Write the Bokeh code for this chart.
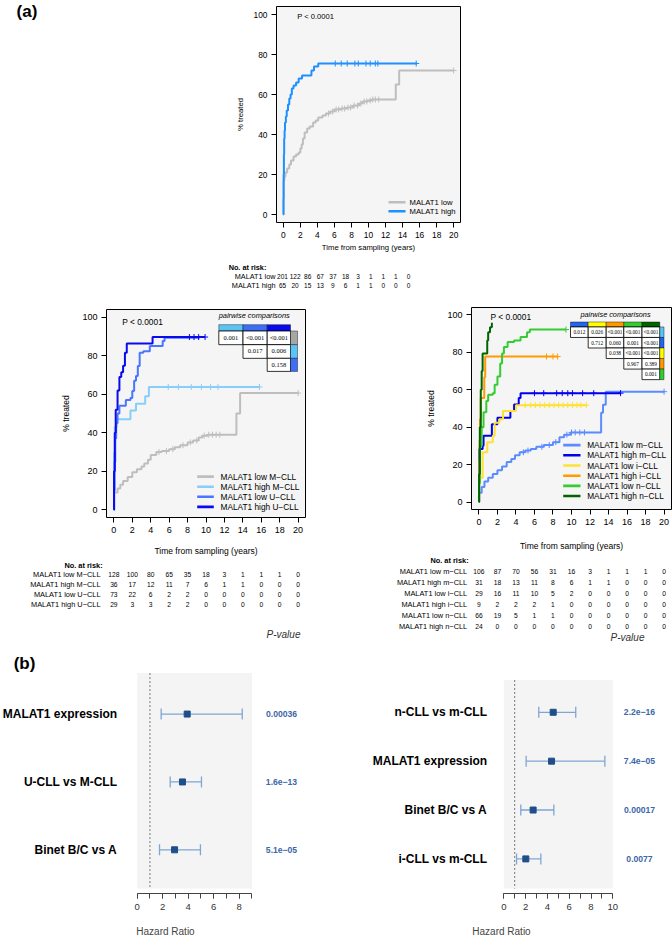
import math
from bokeh.plotting import figure
from bokeh.models import Range1d, FixedTicker
from bokeh.layouts import row, column
from bokeh.embed import file_html
from bokeh.resources import INLINE
from bokeh.core.properties import value

FONT = "Liberation Sans"
SERIF = "Liberation Serif"

# ------------------------------------------------------------------ data
risk_times = [0, 2, 4, 6, 8, 10, 12, 14, 16, 18, 20]

# (a) top panel
top_labels = ["MALAT1 low", "MALAT1 high"]
top_colors = ["#BEBEBE", "#1E90FF"]
top_low_t = [0, 0.03, 0.12, 0.25, 0.45, 0.7, 0.9, 1.2, 1.5, 1.8, 2.0, 2.15, 2.3, 2.5, 2.8, 3.1,
             3.5, 3.8, 4.1, 4.6, 5.0, 5.5, 6.0, 6.8, 7.5, 8.2, 8.9, 9.3, 9.9, 10.4, 13.2, 13.6, 20.0]
top_low_v = [0, 17, 19, 21, 23, 25, 27, 29, 30, 31, 33, 35, 38, 41, 43, 44,
             46, 47, 48.5, 49.5, 50.5, 51.5, 52.5, 53, 53.5, 54.5, 55.5, 56.5, 57, 57.5, 65, 72, 72]
top_low_c = [5.3, 5.8, 6.2, 6.5, 6.9, 7.2, 7.6, 7.9, 8.3, 8.7, 9.1, 9.5, 9.8, 10.2, 10.5, 10.8, 11.2, 20.0]
top_high_t = [0, 0.02, 0.04, 0.07, 0.1, 0.15, 0.2, 0.3, 0.4, 0.55, 0.7, 0.85, 1.0, 1.2, 1.5, 1.8,
              2.2, 3.3, 3.6, 4.1, 15.7]
top_high_v = [0, 8, 20, 30, 38, 42, 46, 49, 52, 55, 58, 60, 63, 64.5, 66, 68,
              69.5, 72, 74, 75.5, 75.5]
top_high_c = [6.1, 6.8, 7.5, 8.4, 8.8, 9.7, 10.2, 10.8, 11.1, 15.6]
top_risk = [[201, 122, 86, 67, 37, 18, 3, 1, 1, 1, 0],
            [65, 20, 15, 13, 9, 6, 1, 1, 0, 0, 0]]

# (a) middle-left panel
ml_labels = ["MALAT1 low M\u2212CLL", "MALAT1 high M\u2212CLL", "MALAT1 low U\u2212CLL", "MALAT1 high U\u2212CLL"]
ml_colors = ["#BEBEBE", "#87CEFA", "#4876FF", "#0A0AEE"]
ml_lowM_t = [0, 0.02, 0.4, 0.7, 1.0, 1.5, 2.0, 2.5, 3.0, 3.3, 3.7, 4.0, 4.6, 5.2, 6.0, 6.6, 7.2,
             8.0, 8.6, 9.2, 9.6, 10.2, 13.3, 13.7, 20.0]
ml_lowM_v = [0, 9, 11, 13, 15, 17, 19.5, 21, 22.5, 24, 26, 28.5, 30, 30.5, 31.5, 32.5, 33.5,
             35, 36, 37.5, 38.5, 39, 50, 60.6, 60.6]
ml_lowM_c = [4.9, 5.7, 6.4, 7.5, 8.3, 9.0, 9.8, 10.3, 10.7, 11.1, 11.5, 20.0]
ml_highM_t = [0, 0.03, 0.1, 0.3, 1.8, 2.4, 3.4, 3.8, 15.8]
ml_highM_v = [0, 30, 43, 47, 51.5, 55, 59, 63.8, 63.8]
ml_highM_c = [5.9, 7.0, 8.4, 9.5, 10.5, 11.3, 15.8]
ml_lowU_t = [0, 0.02, 0.08, 0.15, 0.25, 0.4, 0.6, 1.3, 1.8, 2.0, 2.2, 2.4, 2.6, 2.8, 3.2, 3.9, 5.3, 5.5, 9.3]
ml_lowU_v = [0, 10, 25, 37, 45, 50, 54, 57, 58, 61.7, 67, 69.5, 74.6, 81.5, 82.3, 85, 87.6, 89.3, 89.3]
ml_lowU_c = []
ml_highU_t = [0, 0.02, 0.1, 0.2, 0.4, 0.6, 0.8, 1.0, 1.2, 1.4, 4.2, 9.9]
ml_highU_v = [0, 20, 40, 52, 62, 69, 71.4, 74.8, 81.6, 86.3, 89.7, 89.7]
ml_highU_c = [8.2, 8.7, 9.2, 9.9]
ml_risk = [[128, 100, 80, 65, 35, 18, 3, 1, 1, 1, 0],
           [36, 17, 12, 11, 7, 6, 1, 1, 0, 0, 0],
           [73, 22, 6, 2, 2, 0, 0, 0, 0, 0, 0],
           [29, 3, 3, 2, 2, 0, 0, 0, 0, 0, 0]]
ml_pairwise = [["0.001", "<0.001", "<0.001"], ["0.017", "0.006"], ["0.158"]]

# (a) middle-right panel
mr_labels = ["MALAT1 low m\u2212CLL", "MALAT1 high m\u2212CLL", "MALAT1 low i\u2212CLL",
             "MALAT1 high i\u2212CLL", "MALAT1 low n\u2212CLL", "MALAT1 high n\u2212CLL"]
mr_colors = ["#5B8CFF", "#0000EE", "#FFE135", "#FF9A00", "#33CC33", "#006400"]
mr_lowm_t = [0, 0.02, 0.3, 0.6, 1.0, 1.5, 2.0, 2.5, 3.0, 3.5, 3.9, 4.4, 5.0, 5.6, 6.2, 7.0, 8.0,
             8.7, 9.2, 9.9, 13.2, 13.4, 13.7, 20.0]
mr_lowm_v = [0, 5, 8, 11, 13, 15, 17, 19, 21.4, 23, 25, 26.6, 27.5, 28.4, 29.5, 30.5, 32,
             34.6, 36, 37.2, 47.7, 52, 59, 59]
mr_lowm_c = [4.8, 5.3, 6.8, 7.6, 8.3, 9.5, 10.0, 10.4, 10.9, 11.4, 20.0]
mr_highm_t = [0, 0.02, 0.05, 0.4, 0.5, 1.4, 2.0, 3.4, 3.8, 4.3, 4.5, 15.3]
mr_highm_v = [0, 12, 28.4, 30.1, 35.4, 41.6, 45.1, 48.6, 52.1, 55.6, 58.2, 58.2]
mr_highm_c = [6.0, 7.0, 8.4, 9.0, 9.6, 10.1, 11.2, 12.4, 15.3]
mr_lowi_t = [0, 0.02, 0.4, 0.9, 1.5, 1.7, 2.2, 2.6, 4.0, 11.6]
mr_lowi_v = [0, 13, 26.6, 31.9, 35.4, 42.4, 44.2, 48.6, 51.8, 51.8]
mr_lowi_c = [5.0, 5.6, 6.1, 6.6, 7.1, 7.6, 8.1, 8.6, 9.1, 9.6, 10.1, 10.6, 11.0, 11.6]
mr_highi_t = [0, 0.02, 0.05, 0.08, 0.12, 0.2, 0.58, 0.68, 8.5]
mr_highi_v = [0, 11.1, 22.2, 33.3, 44.4, 55.6, 66.7, 77.8, 77.8]
mr_highi_c = [7.3, 8.0, 8.5]
mr_lown_t = [0, 0.02, 0.1, 0.3, 0.5, 0.8, 1.0, 1.5, 1.7, 2.0, 2.3, 2.5, 2.7, 3.1, 3.8, 4.5, 5.2, 5.5, 9.4]
mr_lown_v = [0, 10, 30, 40, 48, 54, 57.4, 58.2, 62.7, 67.1, 74.1, 79.4, 82.9, 85.6, 86.4, 88.2, 90.8, 92.2, 92.2]
mr_lown_c = [9.4]
mr_highn_t = [0, 0.02, 0.1, 0.2, 0.3, 0.4, 0.9, 1.0, 1.2, 1.4]
mr_highn_v = [0, 15, 40, 60, 70, 79.4, 86.4, 90.8, 93.4, 95.9]
mr_highn_c = []
mr_risk = [[106, 87, 70, 56, 31, 16, 3, 1, 1, 1, 0],
           [31, 18, 13, 11, 8, 6, 1, 1, 0, 0, 0],
           [29, 16, 11, 10, 5, 2, 0, 0, 0, 0, 0],
           [9, 2, 2, 2, 1, 0, 0, 0, 0, 0, 0],
           [66, 19, 5, 1, 1, 0, 0, 0, 0, 0, 0],
           [24, 0, 0, 0, 0, 0, 0, 0, 0, 0, 0]]
mr_pairwise = [["0.012", "0.026", "<0.001", "<0.001", "<0.001"],
               ["0.712", "0.060", "0.001", "<0.001"],
               ["0.038", "<0.001", "<0.001"],
               ["0.967", "0.389"],
               ["0.001"]]

# (b) forest plots
fl_labels = ["MALAT1 expression", "U-CLL vs M-CLL", "Binet B/C vs A"]
fl_hr = [3.92, 3.55, 2.93]
fl_lo = [1.88, 2.59, 1.75]
fl_hi = [8.24, 5.04, 4.96]
fl_p = ["0.00036", "1.6e\u221213", "5.1e\u221205"]

fr_labels = ["n-CLL vs m-CLL", "MALAT1 expression", "Binet B/C vs A", "i-CLL vs m-CLL"]
fr_hr = [4.53, 4.38, 2.69, 2.02]
fr_lo = [3.21, 2.05, 1.56, 1.17]
fr_hi = [6.60, 9.27, 4.59, 3.40]
fr_p = ["2.2e\u221216", "7.4e\u221205", "0.00017", "0.0077"]


# ------------------------------------------------------------------ helpers
def no_align(p):
    try:
        p.frame_align = False
    except Exception:
        pass


def at(c, ts, vs):
    val = vs[0]
    for t, v in zip(ts, vs):
        if t <= c:
            val = v
    return val


def blank_fig(w, h, xr, yr):
    p = figure(width=w, height=h, x_range=xr, y_range=yr, x_axis_location=None,
               y_axis_location=None, min_border=0, min_border_left=0, min_border_right=0,
               min_border_top=0, min_border_bottom=0,
               output_backend="svg", toolbar_location=None)
    p.outline_line_color = None
    p.grid.visible = False
    no_align(p)
    return p


def km_figure(fig_x, fig_y, width, height, bl, bt, fw, fh, tick_fs, axis_fs, x_lab_so, y_lab_so):
    p = figure(width=width, height=height, x_range=Range1d(-0.8, 20.8), y_range=Range1d(-4, 104),
               min_border_left=bl, min_border_right=width - bl - fw, min_border_top=bt,
               min_border_bottom=height - bt - fh, output_backend="svg", toolbar_location=None)
    no_align(p)
    p.background_fill_color = "#F5F5F5"
    p.border_fill_color = "white"
    p.outline_line_color = "black"
    p.outline_line_width = 1
    p.grid.visible = False
    p.xaxis.ticker = FixedTicker(ticks=risk_times)
    p.yaxis.ticker = FixedTicker(ticks=[0, 20, 40, 60, 80, 100])
    for ax in (p.xaxis[0], p.yaxis[0]):
        ax.axis_line_color = None
        ax.major_tick_out = 5
        ax.major_tick_in = 0
        ax.minor_tick_out = 0
        ax.minor_tick_in = 0
        ax.major_tick_line_color = "black"
        ax.major_label_text_font = FONT
        ax.major_label_text_font_size = tick_fs
        ax.major_label_text_color = "black"
        ax.major_label_standoff = 4
        ax.axis_label_text_font = FONT
        ax.axis_label_text_font_size = axis_fs
        ax.axis_label_text_font_style = "normal"
        ax.axis_label_text_color = "black"
    p.xaxis.axis_label = "Time from sampling (years)"
    p.yaxis.axis_label = "% treated"
    p.xaxis.axis_label_standoff = x_lab_so
    p.yaxis.axis_label_standoff = y_lab_so
    fl = fig_x + bl
    ft = fig_y + bt
    sx = fw / 21.6
    sy = fh / 108.0
    fx = lambda px: -0.8 + (px - fl) / sx
    fy = lambda py: 104 - (py - ft) / sy
    return p, fx, fy


def ptext(p, x, y, s, fs, align="left", style="normal", color="black", font=FONT):
    p.text(x=[x], y=[y], text=[s], text_align=align, text_baseline="middle",
           text_font=value(font), text_font_size=fs, text_font_style=style, text_color=color)


def draw_curves(p, fx, fy, curves, colors, labels, lw, key_px, text_px, rows_py, leg_fs):
    for (t, v, cens), col in zip(curves, colors):
        p.step(t, v, mode="after", line_color=col, line_width=lw)
        if cens:
            p.scatter(cens, [at(c, t, v) for c in cens], marker="cross", size=6,
                      line_color=col, line_width=1)
    # key (legend) in the lower right corner of the panel
    n = len(labels)
    ys = [fy(py) for py in rows_py]
    p.segment(x0=[fx(key_px[0])] * n, x1=[fx(key_px[1])] * n, y0=ys, y1=ys,
              line_color=colors, line_width=2.6)
    p.text(x=[fx(text_px)] * n, y=ys, text=labels, text_align="left", text_baseline="middle",
           text_font=value(FONT), text_font_size=leg_fs, text_color="black")


def pair_table(p, fx, fy, cols, side, head, rows, head_colors, side_colors, texts, fs, title_xy, title_fs):
    n = len(texts)
    p.quad(left=[fx(cols[i]) for i in range(n)], right=[fx(cols[i + 1]) for i in range(n)],
           top=[fy(head[0])] * n, bottom=[fy(head[1])] * n, fill_color=head_colors,
           line_color="black", line_width=0.4)
    L, R, T, B, TX, TY, TT = [], [], [], [], [], [], []
    for r in range(n):
        for k, s in enumerate(texts[r]):
            c = r + k
            L.append(fx(cols[c])); R.append(fx(cols[c + 1]))
            T.append(fy(rows[r])); B.append(fy(rows[r + 1]))
            TX.append(fx((cols[c] + cols[c + 1]) / 2)); TY.append(fy((rows[r] + rows[r + 1]) / 2))
            TT.append(s)
    p.quad(left=L, right=R, top=T, bottom=B, fill_color="white", line_color="black", line_width=0.8)
    p.quad(left=[fx(side[0])] * n, right=[fx(side[1])] * n, top=[fy(rows[r]) for r in range(n)],
           bottom=[fy(rows[r + 1]) for r in range(n)], fill_color=side_colors,
           line_color="black", line_width=0.4)
    p.text(x=TX, y=TY, text=TT, text_align="center", text_baseline="middle",
           text_font=value(SERIF), text_font_size=fs, text_color="black")
    ptext(p, fx(title_xy[0]), fy(title_xy[1]), "pairwise comparisons", title_fs,
          align="center", style="italic")


def risk_table(fig_x, fig_y, w, h, xmap, row0_py, dy, labels, risk, label_px, head_px, fs, nfs):
    xr = Range1d(xmap(fig_x), xmap(fig_x + w))
    yr = Range1d((fig_y + h - row0_py) / dy, (fig_y - row0_py) / dy)
    p = blank_fig(w, h, xr, yr)
    ptext(p, xmap(head_px), -1, "No. at risk:", fs, align="center", style="bold")
    for i, (lab, vals) in enumerate(zip(labels, risk)):
        ptext(p, xmap(label_px), i, lab, fs, align="right")
        p.text(x=risk_times, y=[i] * len(risk_times), text=[str(v) for v in vals],
               text_align="center", text_baseline="middle", text_font=value(FONT),
               text_font_size=nfs, text_color="black")
    return p


def forest_fig(fig_x, fig_y, w, h, bb, zero_px, unit_px, row0_py, row_dy, band_py, xmax,
               labels, hr, lo, hi, pv, label_px, pval_px, header_xy):
    frame_bottom = fig_y + h - bb
    gx = lambda px: (px - zero_px) / unit_px
    gy = lambda py: (py - row0_py) / row_dy
    xr = Range1d(gx(fig_x), gx(fig_x + w))
    yr = Range1d(gy(frame_bottom), gy(fig_y))
    p = figure(width=w, height=h, x_range=xr, y_range=yr, y_axis_location=None,
               min_border_left=0, min_border_right=0, min_border_top=0, min_border_bottom=bb,
               output_backend="svg", toolbar_location=None)
    no_align(p)
    p.outline_line_color = None
    p.grid.visible = False
    ry = list(range(len(labels)))
    p.quad(left=[0], right=[xmax], top=[gy(band_py[0])], bottom=[gy(band_py[1])],
           fill_color="#F4F4F4", line_color=None)
    p.segment(x0=[1], x1=[1], y0=[gy(band_py[0])], y1=[gy(band_py[1])], line_dash="2 2",
              line_color="#666666", line_width=0.9)
    p.segment(x0=lo, x1=hi, y0=ry, y1=ry, line_color="#7FA6D3", line_width=1.3)
    p.scatter(x=lo + hi, y=ry + ry, marker="dash", angle=math.pi / 2, size=11,
              line_color="#7FA6D3", line_width=1.3)
    p.scatter(x=hr, y=ry, marker="square", size=6, fill_color="#1F4E89", line_color="#1F4E89")
    p.text(x=[gx(label_px)] * len(ry), y=ry, text=labels, text_align="right", text_baseline="middle",
           text_font=value(FONT), text_font_size="12px", text_font_style="bold", text_color="black")
    p.text(x=[gx(pval_px)] * len(ry), y=ry, text=pv, text_align="center", text_baseline="middle",
           text_font=value(FONT), text_font_size="8.6px", text_font_style="bold", text_color="#3A68A8")
    ptext(p, gx(header_xy[0]), gy(header_xy[1]), "P-value", "10px", align="center",
          style="italic", color="#333333")
    ax = p.xaxis[0]
    ax.bounds = (0, xmax)
    ax.ticker = FixedTicker(ticks=list(range(0, xmax + 1, 2)), minor_ticks=list(range(0, xmax + 1)))
    ax.axis_line_color = "#444444"
    ax.major_tick_line_color = "#444444"
    ax.minor_tick_line_color = "#444444"
    ax.major_tick_out = 5
    ax.major_tick_in = 0
    ax.minor_tick_out = 5
    ax.minor_tick_in = 0
    ax.major_label_standoff = 5
    ax.major_label_text_font = FONT
    ax.major_label_text_font_size = "9.5px"
    ax.major_label_text_color = "#333333"
    ax.axis_label = "Hazard Ratio"
    ax.axis_label_text_font = FONT
    ax.axis_label_text_font_size = "10px"
    ax.axis_label_text_font_style = "normal"
    ax.axis_label_text_color = "#444444"
    ax.axis_label_standoff = 13
    return p, gx, gy


# ------------------------------------------------------------------ (a) label
lab_a = blank_fig(231, 257, Range1d(0, 231), Range1d(257, 0))
ptext(lab_a, 26.5, 11, "(a)", "17px", align="center", style="bold")

# ------------------------------------------------------------------ top KM
p_top, fx_t, fy_t = km_figure(231, 0, 239, 257, 45, 6, 184, 216, "8.4px", "7.7px", 2, 6)
draw_curves(p_top, fx_t, fy_t,
            [(top_low_t, top_low_v, top_low_c), (top_high_t, top_high_v, top_high_c)],
            top_colors, top_labels, 2, (388, 405), 409, [201.7, 210.7], "7.7px")
ptext(p_top, fx_t(296.7), fy_t(16), "P < 0.0001", "7.6px")

t_top = risk_table(0, 257, 440, 36, lambda px: (px - 282.0) / 6.3, 276, 9,
                   top_labels, top_risk, 275, 247, "7.3px", "6.5px")

# ------------------------------------------------------------------ middle-left KM
p_ml, fx_ml, fy_ml = km_figure(0, 293, 330, 265, 106, 16, 199, 210, "9px", "8.5px", 10, 8)
draw_curves(p_ml, fx_ml, fy_ml,
            [(ml_lowM_t, ml_lowM_v, ml_lowM_c), (ml_highM_t, ml_highM_v, ml_highM_c),
             (ml_lowU_t, ml_lowU_v, ml_lowU_c), (ml_highU_t, ml_highU_v, ml_highU_c)],
            ml_colors, ml_labels, 2, (196.7, 213.3), 220, [477.7, 487.9, 498.1, 508.3], "8.3px")
ptext(p_ml, fx_ml(121.7), fy_ml(321.7), "P < 0.0001", "8.4px")
pair_table(p_ml, fx_ml, fy_ml, [218.3, 242.5, 266.7, 290.0], [290.0, 297.0], [324.3, 330.7],
           [330.7, 344.5, 358.3, 371.5], ["#5BC4F4", "#3D6FF5", "#0A0AEE"],
           ["#A6A6A6", "#5BC4F4", "#3D6FF5"], ml_pairwise, "6.5px", (253.7, 315.0), "7.4px")
t_ml = risk_table(0, 558, 330, 54, fx_ml, 574.3, 9.8, ml_labels, ml_risk, 100, 83, "7.4px", "6.7px")

# ------------------------------------------------------------------ middle-right KM
p_mr, fx_mr, fy_mr = km_figure(330, 293, 342, 260, 141, 14, 200, 205, "9px", "8.5px", 13, 8)
draw_curves(p_mr, fx_mr, fy_mr,
            [(mr_lowm_t, mr_lowm_v, mr_lowm_c), (mr_highm_t, mr_highm_v, mr_highm_c),
             (mr_lowi_t, mr_lowi_v, mr_lowi_c), (mr_highi_t, mr_highi_v, mr_highi_c),
             (mr_lown_t, mr_lown_v, mr_lown_c), (mr_highn_t, mr_highn_v, mr_highn_c)],
            mr_colors, mr_labels, 2, (562.7, 580), 586.7,
            [446.7, 457.0, 467.4, 477.7, 488.0, 498.3], "8.3px")
ptext(p_mr, fx_mr(490), fy_mr(316.7), "P < 0.0001", "8.4px")
pair_table(p_mr, fx_mr, fy_mr, [570.0, 587.7, 605.7, 623.3, 641.5, 659.3], [659.3, 663.5],
           [321.7, 326.7], [326.7, 337.4, 348.1, 358.8, 369.5, 380.2],
           ["#2266EE", "#FFFF00", "#FF9900", "#33CC33", "#006400"],
           ["#5BC4F4", "#2266EE", "#FFFF00", "#FF9900", "#33CC33"], mr_pairwise, "5.3px",
           (615.0, 314.0), "7.3px")
t_mr = risk_table(330, 553, 342, 78, fx_mr, 571, 11, mr_labels, mr_risk, 466.7, 449, "7.4px", "6.7px")

# ------------------------------------------------------------------ (b) forest plots
f_l, gx_l, gy_l = forest_fig(0, 612, 330, 327, 44, 136.7, 12.75, 714.3, 68.35, (673, 890), 9,
                             fl_labels, fl_hr, fl_lo, fl_hi, fl_p, 116.7, 281, (283, 634))
ptext(f_l, gx_l(24), gy_l(663), "(b)", "17px", align="center", style="bold")
f_r, gx_r, gy_r = forest_fig(330, 631, 342, 308, 43, 503.3, 10.9, 712.7, 49.43, (680, 891), 10,
                             fr_labels, fr_hr, fr_lo, fr_hi, fr_p, 486.7, 639, (627, 637))

layout = column(
    row(lab_a, p_top),
    t_top,
    row(column(p_ml, t_ml, f_l), column(p_mr, t_mr, f_r)),
)

open("out.html", "w").write(file_html(layout, INLINE))
